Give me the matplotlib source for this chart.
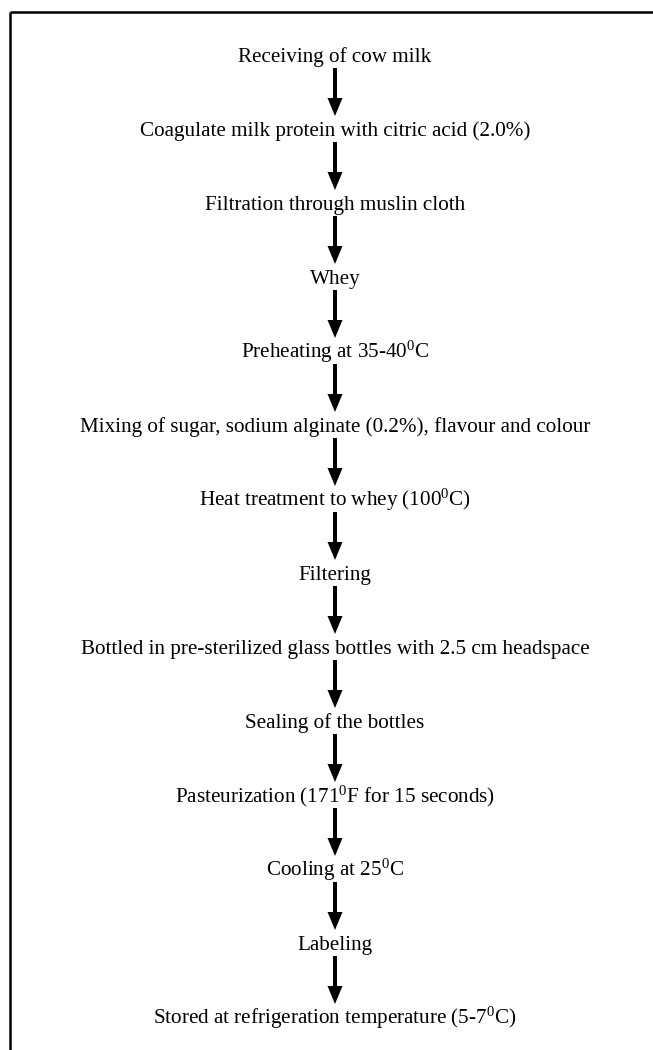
import matplotlib.pyplot as plt

plt.rcParams['mathtext.fontset'] = 'custom'
plt.rcParams['mathtext.rm'] = 'Liberation Serif'
plt.rcParams['mathtext.it'] = 'Liberation Serif:italic'

steps = [
    "Receiving of cow milk",
    "Coagulate milk protein with citric acid (2.0%)",
    "Filtration through muslin cloth",
    "Whey",
    r"Preheating at 35-40$^{0}$C",
    "Mixing of sugar, sodium alginate (0.2%), flavour and colour",
    r"Heat treatment to whey (100$^{0}$C)",
    "Filtering",
    "Bottled in pre-sterilized glass bottles with 2.5 cm headspace",
    "Sealing of the bottles",
    r"Pasteurization (171$^{0}$F for 15 seconds)",
    r"Cooling at 25$^{0}$C",
    "Labeling",
    r"Stored at refrigeration temperature (5-7$^{0}$C)",
]

W, H = 653, 1050
fig = plt.figure(figsize=(W / 100, H / 100), dpi=100)
ax = fig.add_axes([0, 0, 1, 1])
ax.set_xlim(0, W)
ax.set_ylim(H, 0)
ax.axis('off')

# open frame: top and left edges only
ax.plot([9.5, W], [11.5, 11.5], color='black', lw=1.8, solid_capstyle='butt')
ax.plot([9.5, 9.5], [11.5, H], color='black', lw=1.8, solid_capstyle='butt')

xc = 335
y0, step = 55, 74.0
ys = [y0 + i * step for i in range(len(steps))]

for i, (txt, y) in enumerate(zip(steps, ys)):
    ax.text(xc, y + 7, txt, ha='center', va='baseline',
            fontsize=15.2, family='Liberation Serif', color='black')
    if i < len(steps) - 1:
        start = y + 13
        tip = ys[i + 1] - 13
        ax.arrow(xc, start, 0, tip - start, width=4, head_width=15,
                 head_length=18, length_includes_head=True,
                 color='black', lw=0)

plt.savefig('out.png', dpi=100)
